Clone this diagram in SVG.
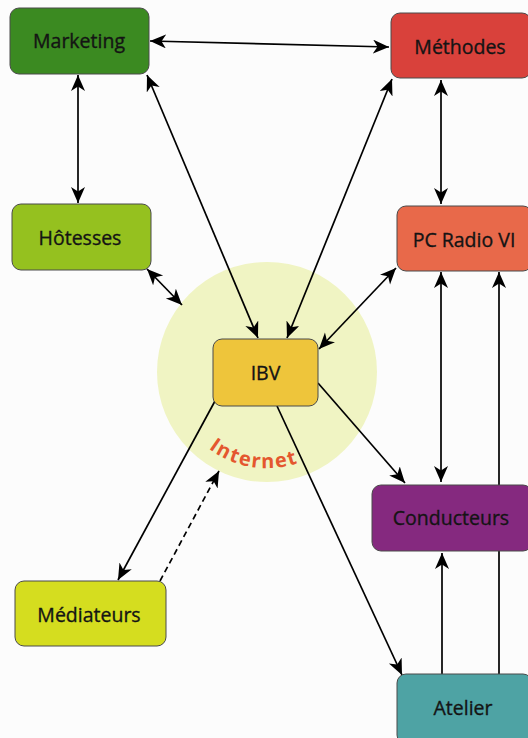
<svg xmlns="http://www.w3.org/2000/svg" width="528" height="738" viewBox="0 0 528 738">
<style>
.node rect{stroke:#4a4a4a;stroke-width:1;}
.node text{font-family:"Open Sans","Liberation Sans",sans-serif;font-size:19.5px;font-weight:500;fill:#141414;text-anchor:middle;stroke:#141414;stroke-width:0.35;}
.conn line{stroke:#000;stroke-width:1.7;fill:none;}
.both{marker-start:url(#ah);marker-end:url(#ah);}
.end{marker-end:url(#ah);}
.dash{stroke-dasharray:6,4;}
</style>
<defs>
<marker id="ah" markerUnits="userSpaceOnUse" markerWidth="18" markerHeight="16" refX="16" refY="7" orient="auto-start-reverse">
<path d="M0,0 L16,7 L0,14 L4.5,7 Z" fill="#000"/>
</marker>
<path id="arc" d="M199,440 A96,96 0 0 0 335,440"/>
</defs>
<rect width="528" height="738" fill="#fcfcfc"/>
<g id="internet">
<circle cx="267" cy="372" r="110" fill="#f0f4c3"/>
<text font-family="'Open Sans','Liberation Sans',sans-serif" font-size="20" font-weight="bold" fill="#e4572e" letter-spacing="1.5"><textPath href="#arc" startOffset="40%" text-anchor="middle">Internet</textPath></text>
</g>
<g id="connectors" class="conn">
<line class="both" x1="150" y1="41" x2="389" y2="47"/>
<line class="both" x1="78" y1="75" x2="78" y2="203"/>
<line class="both" x1="147" y1="75" x2="258" y2="338"/>
<line class="both" x1="392" y1="79" x2="287" y2="338"/>
<line class="both" x1="441" y1="80" x2="441" y2="204"/>
<line class="both" x1="147" y1="269" x2="182" y2="305"/>
<line class="both" x1="396" y1="268" x2="319" y2="349"/>
<line class="end" x1="318" y1="383" x2="405" y2="483"/>
<line class="both" x1="441" y1="272" x2="441" y2="482"/>
<line class="end" x1="499" y1="674" x2="499" y2="272"/>
<line class="end" x1="442" y1="674" x2="442" y2="553"/>
<line class="end" x1="277" y1="406" x2="402" y2="675"/>
<line class="end" x1="215" y1="401" x2="118" y2="580"/>
<line class="end dash" x1="160" y1="581" x2="219" y2="471"/>
</g>
<g id="marketing" class="node"><rect x="10" y="8" width="139" height="66" rx="9" fill="#3b8a21"/><text x="79" y="48">Marketing</text></g>
<g id="methodes" class="node"><rect x="391" y="13" width="140" height="65" rx="9" fill="#d9413b"/><text x="460" y="54">Méthodes</text></g>
<g id="hotesses" class="node"><rect x="12" y="204" width="139" height="66" rx="9" fill="#95c11f"/><text x="80" y="245">Hôtesses</text></g>
<g id="pcradio" class="node"><rect x="397" y="206" width="135" height="65" rx="9" fill="#e8694a"/><text x="464" y="247">PC Radio VI</text></g>
<g id="ibv" class="node"><rect x="213" y="339" width="105" height="67" rx="9" fill="#eec53b"/><text x="265.5" y="380">IBV</text></g>
<g id="mediateurs" class="node"><rect x="15" y="581" width="151" height="65" rx="9" fill="#d5dd1f"/><text x="89" y="622">Médiateurs</text></g>
<g id="conducteurs" class="node"><rect x="372" y="485" width="160" height="66" rx="9" fill="#85297f"/><text x="451" y="525">Conducteurs</text></g>
<g id="atelier" class="node"><rect x="397" y="674" width="135" height="70" rx="9" fill="#4ea3a4"/><text x="463" y="715">Atelier</text></g>
</svg>
